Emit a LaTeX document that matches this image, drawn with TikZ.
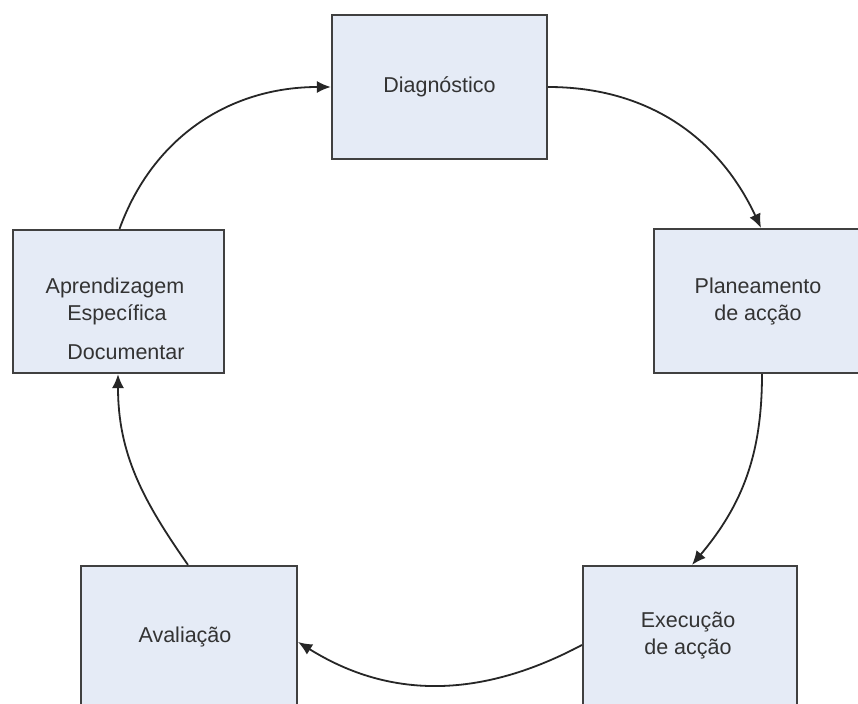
\documentclass[tikz,border=0pt]{standalone}
\usepackage{fontspec}
\setmainfont{Liberation Sans}
\usetikzlibrary{arrows.meta}
\definecolor{boxfill}{HTML}{E5EBF6}
\definecolor{boxline}{HTML}{404040}
\definecolor{txt}{HTML}{333333}
\begin{document}
\begin{tikzpicture}[x=1pt,y=-1pt,
  box/.style={draw=boxline,fill=boxfill,line width=2.2pt,minimum width=#1,inner sep=0pt,
    text=txt,align=center,font=\fontsize{21.5}{27}\selectfont},
  box/.default=215pt,
  lbl/.style={text=txt,inner sep=0pt,font=\fontsize{21.5}{27}\selectfont,align=center},
  conn/.style={draw=black!85,line width=1.8pt,-{Latex[length=14pt,width=12pt]}}]
\useasboundingbox[fill=white] (0,0) rectangle (858,703);
\node[box, minimum height=144pt] (diag) at (439.5,87) {Diagnóstico};
\node[box=208pt, minimum height=144pt] (plan) at (758,301) {Planeamento\\de acção};
\node[box=211pt, minimum height=143pt] (apr) at (118.5,301.5) {};
\node[lbl, anchor=base] (apr1) at (115,293) {Aprendizagem};
\node[lbl, anchor=base] (apr2) at (117,320) {Específica};
\node[lbl, anchor=base] (apr3) at (126,359) {Documentar};
\node[box=216pt, minimum height=150pt] (aval) at (189,641) {};
\node[lbl] (avaltxt) at (185,637) {Avaliação};
\node[box=214pt, minimum height=150pt] (exec) at (690,641) {};
\node[lbl] (exectxt) at (688,636) {Execução\\de acção};
\draw[conn] (diag.east) to[out=0,in=115] ([xshift=3pt]plan.north);
\draw[conn] ([xshift=4pt]plan.south) to[out=-90,in=50] ([xshift=2pt]exec.north);
\draw[conn] ([yshift=-4pt]exec.west) to[out=208,in=-32] ([yshift=-1pt]aval.east);
\draw[conn] ([xshift=-1pt]aval.north) to[out=125,in=-90] ([xshift=-0.5pt]apr.south);
\draw[conn] ([xshift=1pt]apr.north) to[out=70,in=180] (diag.west);
\end{tikzpicture}
\end{document}
